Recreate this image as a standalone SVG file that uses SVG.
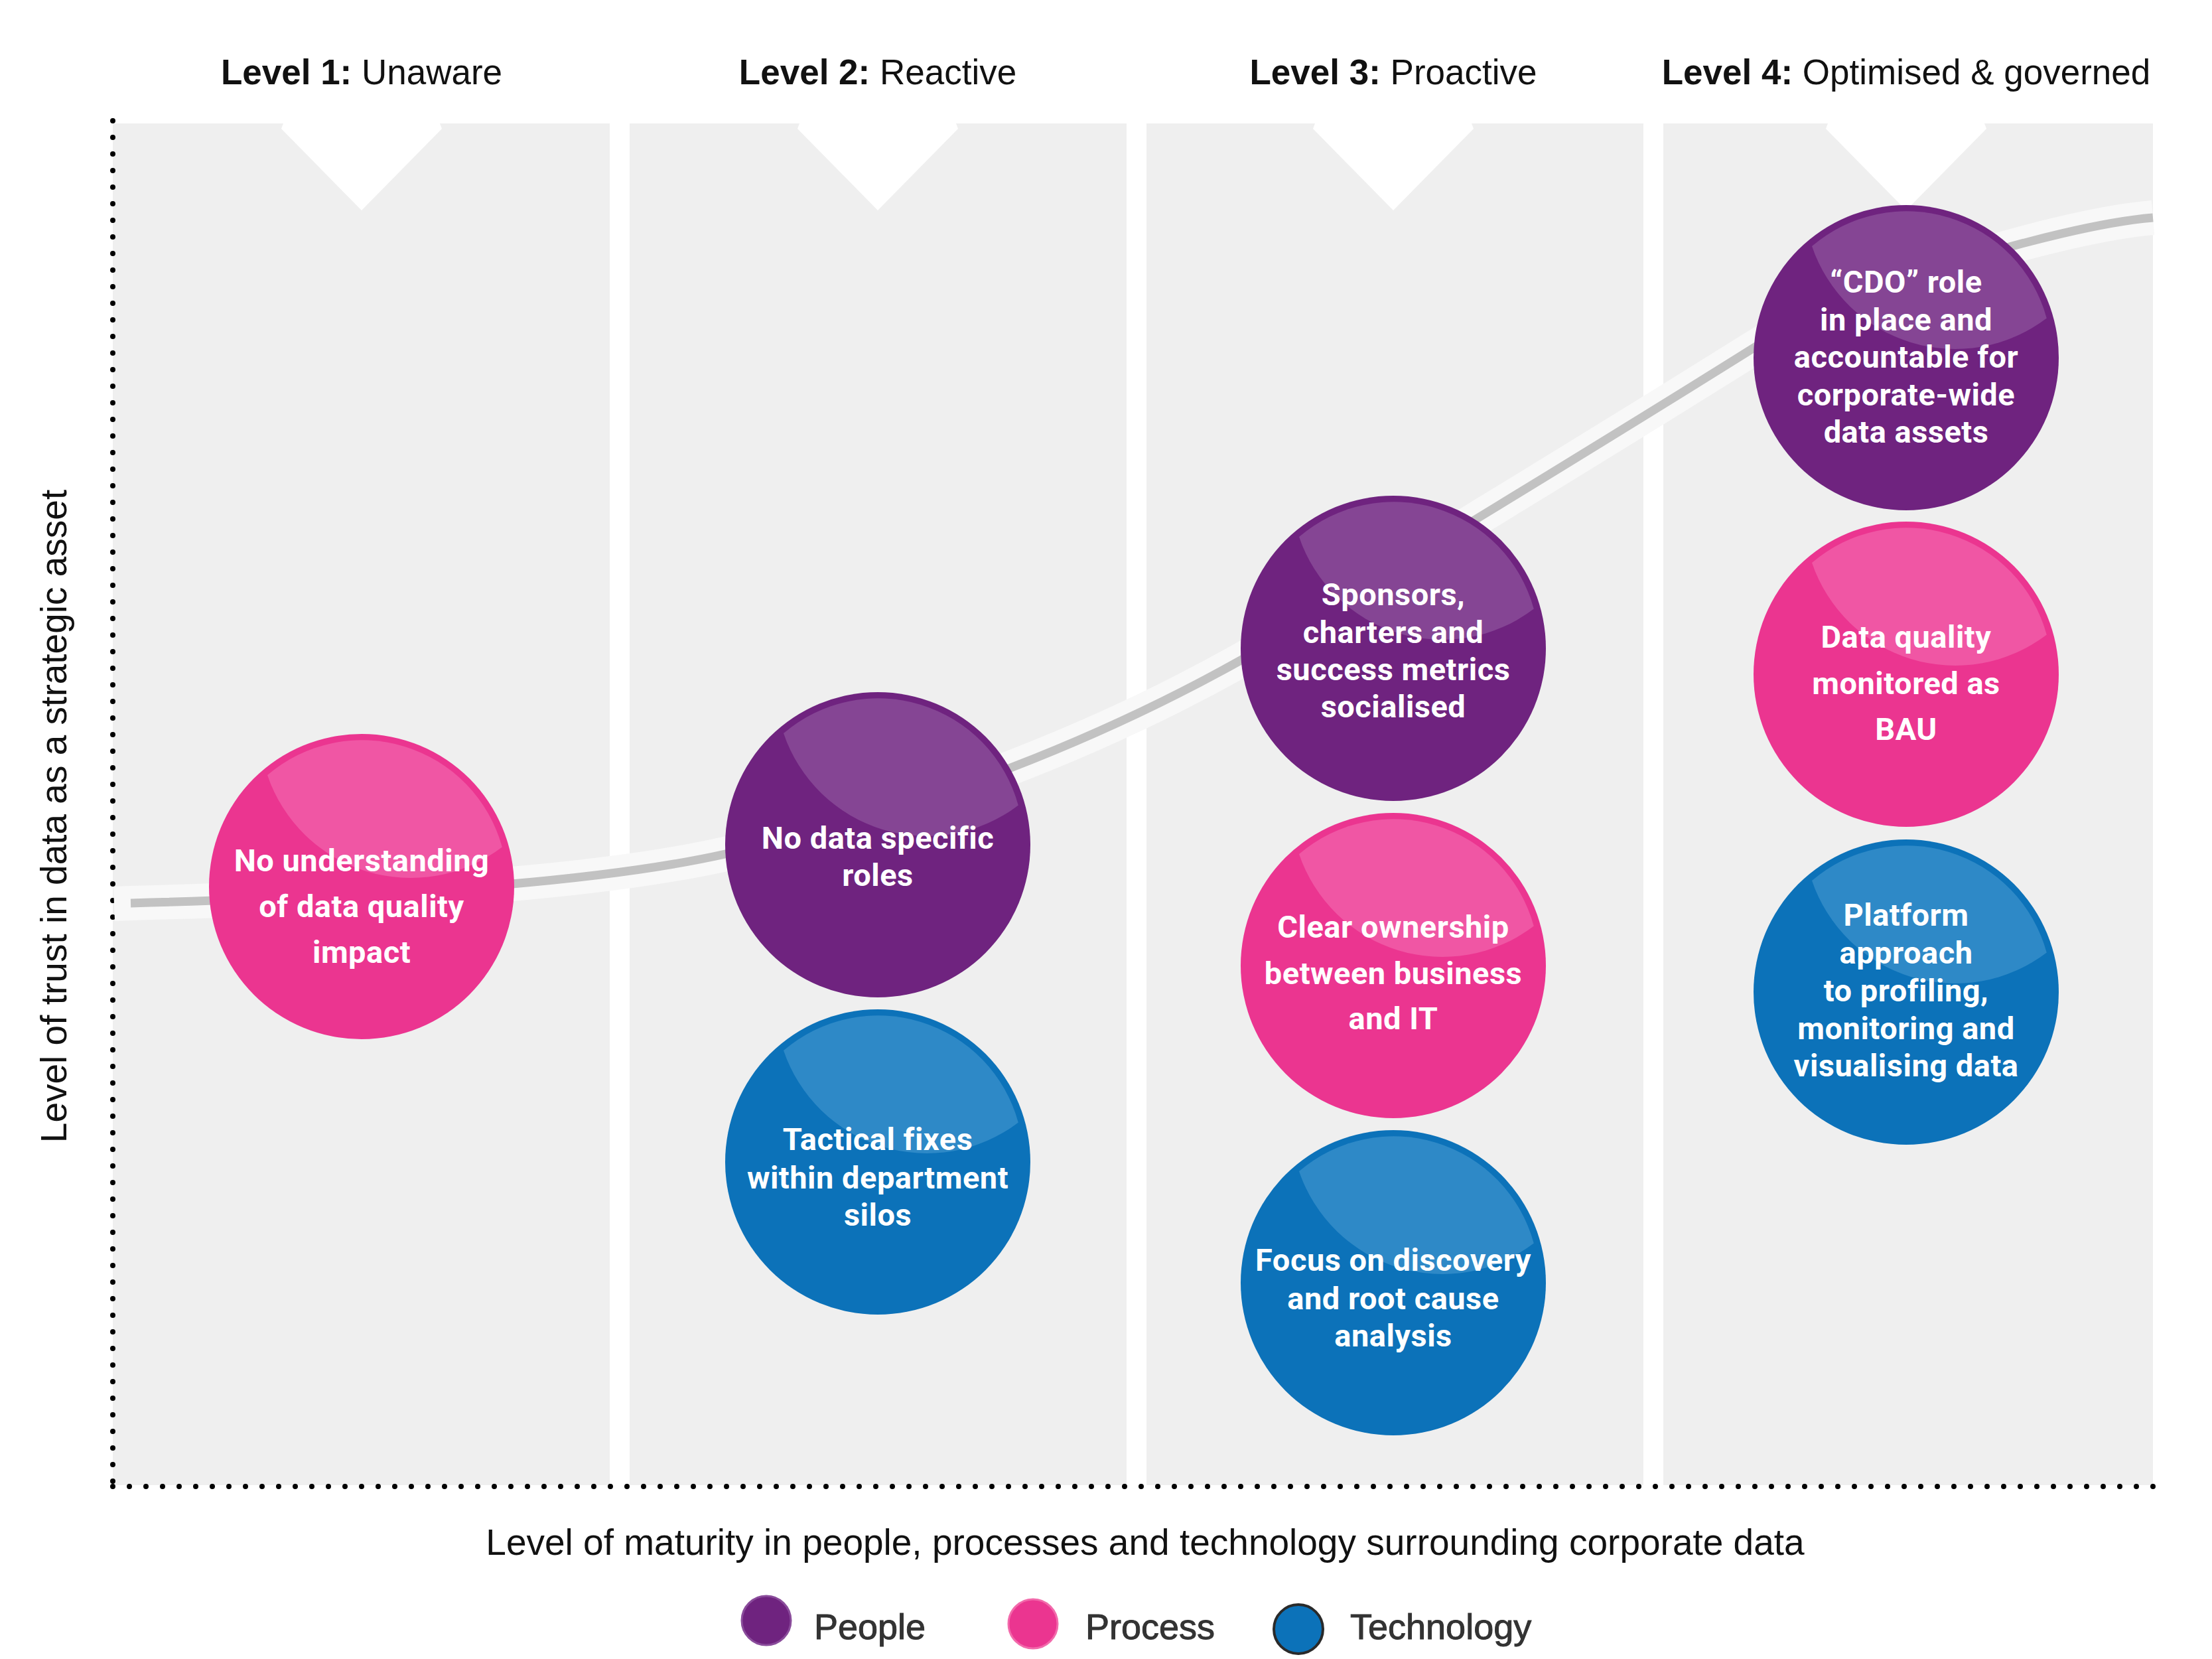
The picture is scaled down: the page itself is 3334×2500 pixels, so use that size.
<svg xmlns="http://www.w3.org/2000/svg" xmlns:xlink="http://www.w3.org/1999/xlink" width="3334" height="2500" viewBox="0 0 3334 2500">
<style>
.panel{fill:#efefef}
.notch{fill:#ffffff}
.hdr{font-family:"Liberation Sans",Arial,sans-serif;font-size:53px;fill:#111111;text-anchor:middle}
.axis{font-family:"Liberation Sans",Arial,sans-serif;font-size:55px;fill:#111111;text-anchor:middle}
.ctext{font-family:Roboto,"Liberation Sans",Arial,sans-serif;font-weight:bold;font-size:47px;fill:#ffffff;text-anchor:middle;letter-spacing:0.5px}
.people .base{fill:#6f237f}
.people .hl{fill:#854594}
.process .base{fill:#eb3590}
.process .hl{fill:#f056a4}
.tech .base{fill:#0c72b9}
.tech .hl{fill:#2e89c7}
.dots{fill:none;stroke:#000000;stroke-width:8;stroke-linecap:round;stroke-dasharray:0 25}
.leg{font-family:"Liberation Sans",Arial,sans-serif;font-size:54px;fill:#333333;stroke:#333333;stroke-width:1}
</style>
<defs>
<path id="hl" d="M-142,-168 A219,219 0 0 1 211.8,-59.4 A228,228 0 0 1 -142,-168 Z"/>
<circle id="ball" r="230"/>
</defs>
<rect x="0" y="0" width="3334" height="2500" fill="#ffffff"/>

<g id="panels">
<rect class="panel" x="170" y="186" width="749" height="2052"/>
<rect class="panel" x="949" y="186" width="749" height="2052"/>
<rect class="panel" x="1728" y="186" width="749" height="2052"/>
<rect class="panel" x="2507" y="186" width="738" height="2052"/>
<polygon class="notch" points="427,186 424,194 545,317 666,194 663,186"/>
<polygon class="notch" points="1205,186 1202,194 1323,317 1444,194 1441,186"/>
<polygon class="notch" points="1982,186 1979,194 2100,317 2221,194 2218,186"/>
<polygon class="notch" points="2755,186 2752,194 2873,317 2994,194 2991,186"/>
</g>

<g id="headers">
<text class="hdr" x="545" y="127"><tspan font-weight="bold">Level 1:</tspan> Unaware</text>
<text class="hdr" x="1323" y="127"><tspan font-weight="bold">Level 2:</tspan> Reactive</text>
<text class="hdr" x="2100" y="127"><tspan font-weight="bold">Level 3:</tspan> Proactive</text>
<text class="hdr" x="2873" y="127"><tspan font-weight="bold">Level 4:</tspan> Optimised &amp; governed</text>
</g>

<g id="axes">
<line class="dots" x1="170" y1="182" x2="170" y2="2240"/>
<line class="dots" x1="170" y1="2240" x2="3250" y2="2240"/>
<text class="axis" transform="translate(100,1230) rotate(-90)">Level of trust in data as a strategic asset</text>
<text class="axis" x="1726" y="2343">Level of maturity in people, processes and technology surrounding corporate data</text>
</g>

<g id="connectors">
<path d="M172,1362 L197,1361 C600,1350 900,1330 1093,1287 C1343,1232 1620,1135 1870,995 C2000,922 2500,614 2642,525 C2780,438 3100,340 3245,328" fill="none" stroke="#f8f8f8" stroke-width="52"/>
<path d="M197,1361 C600,1350 900,1330 1093,1287 C1343,1232 1620,1135 1870,995 C2000,922 2500,614 2642,525 C2780,438 3100,340 3245,328" fill="none" stroke="#c2c2c2" stroke-width="13"/>
</g>

<g id="l1-process" class="process" transform="translate(545,1336)">
<use xlink:href="#ball" class="base"/><use xlink:href="#hl" class="hl"/>
<text class="ctext"><tspan x="0" y="-23">No understanding</tspan><tspan x="0" y="46">of data quality</tspan><tspan x="0" y="115">impact</tspan></text>
</g>

<g id="l2-people" class="people" transform="translate(1323,1273)">
<use xlink:href="#ball" class="base"/><use xlink:href="#hl" class="hl"/>
<text class="ctext"><tspan x="0" y="6">No data specific</tspan><tspan x="0" y="62">roles</tspan></text>
</g>

<g id="l2-tech" class="tech" transform="translate(1323,1751)">
<use xlink:href="#ball" class="base"/><use xlink:href="#hl" class="hl"/>
<text class="ctext"><tspan x="0" y="-18">Tactical fixes</tspan><tspan x="0" y="40">within department</tspan><tspan x="0" y="96">silos</tspan></text>
</g>

<g id="l3-people" class="people" transform="translate(2100,977)">
<use xlink:href="#ball" class="base"/><use xlink:href="#hl" class="hl"/>
<text class="ctext"><tspan x="0" y="-65">Sponsors,</tspan><tspan x="0" y="-8">charters and</tspan><tspan x="0" y="48">success metrics</tspan><tspan x="0" y="104">socialised</tspan></text>
</g>

<g id="l3-process" class="process" transform="translate(2100,1455)">
<use xlink:href="#ball" class="base"/><use xlink:href="#hl" class="hl"/>
<text class="ctext"><tspan x="0" y="-42">Clear ownership</tspan><tspan x="0" y="28">between business</tspan><tspan x="0" y="96">and IT</tspan></text>
</g>

<g id="l3-tech" class="tech" transform="translate(2100,1933)">
<use xlink:href="#ball" class="base"/><use xlink:href="#hl" class="hl"/>
<text class="ctext"><tspan x="0" y="-18">Focus on discovery</tspan><tspan x="0" y="40">and root cause</tspan><tspan x="0" y="96">analysis</tspan></text>
</g>

<g id="l4-people" class="people" transform="translate(2873,539)">
<use xlink:href="#ball" class="base"/><use xlink:href="#hl" class="hl"/>
<text class="ctext"><tspan x="0" y="-98">“CDO” role</tspan><tspan x="0" y="-41">in place and</tspan><tspan x="0" y="15">accountable for</tspan><tspan x="0" y="72">corporate-wide</tspan><tspan x="0" y="128">data assets</tspan></text>
</g>

<g id="l4-process" class="process" transform="translate(2873,1016)">
<use xlink:href="#ball" class="base"/><use xlink:href="#hl" class="hl"/>
<text class="ctext"><tspan x="0" y="-40">Data quality</tspan><tspan x="0" y="30">monitored as</tspan><tspan x="0" y="99">BAU</tspan></text>
</g>

<g id="l4-tech" class="tech" transform="translate(2873,1495)">
<use xlink:href="#ball" class="base"/><use xlink:href="#hl" class="hl"/>
<text class="ctext"><tspan x="0" y="-100">Platform</tspan><tspan x="0" y="-43">approach</tspan><tspan x="0" y="14">to profiling,</tspan><tspan x="0" y="71">monitoring and</tspan><tspan x="0" y="127">visualising data</tspan></text>
</g>

<g id="legend">
<g id="legend-people"><circle cx="1155" cy="2442" r="37" fill="#6f237f" stroke="#8a4c9b" stroke-width="3"/><text class="leg" x="1227" y="2470">People</text></g>
<g id="legend-process"><circle cx="1557" cy="2447" r="37" fill="#eb3590" stroke="#f26aab" stroke-width="3"/><text class="leg" x="1636" y="2470">Process</text></g>
<g id="legend-tech"><circle cx="1957" cy="2455" r="37" fill="#0c72b9" stroke="#2a2a2a" stroke-width="4"/><text class="leg" x="2035" y="2470">Technology</text></g>
</g>
</svg>
